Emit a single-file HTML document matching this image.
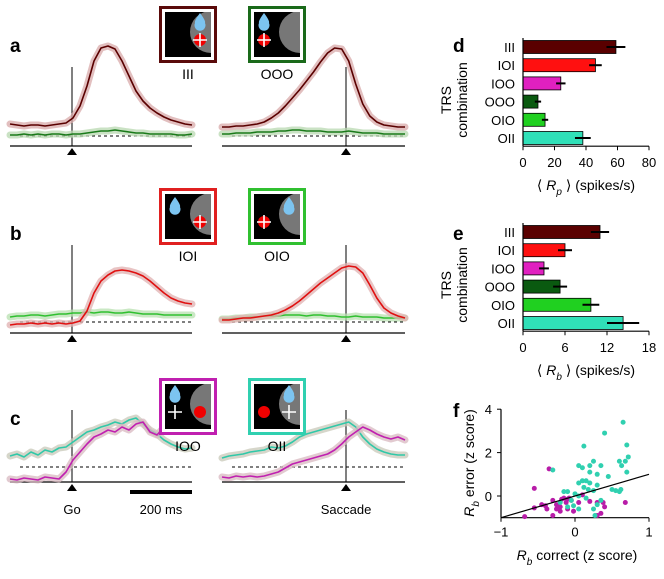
<!DOCTYPE html>
<html><head><meta charset="utf-8"><style>
body{margin:0;background:#fff}
svg{display:block;font-family:"Liberation Sans",sans-serif}
</style></head><body>
<svg id="fig" width="664" height="579" viewBox="0 0 664 579"></svg>
<script>
// ---- data ----
const aLeftRed=[22,21,20,21,21,20,21,22,23,28,40,60,85,98,100,97,85,70,55,45,38,33,29,26,24,22,21];
const aLeftGreen=[11,11,12,11,12,11,12,12,11,12,12,13,14,15,15,16,15,14,13,13,12,12,12,12,11,11,12];
const aRightRed=[19,19,20,20,21,22,24,28,33,40,48,56,65,74,84,93,98,97,85,62,42,30,24,21,20,19,19];
const aRightGreen=[12,12,13,13,13,14,14,14,15,15,16,16,15,15,15,14,14,14,15,14,13,13,13,12,12,12,12];
const bLeftRed=[8,9,9,10,9,10,9,10,9,10,12,22,40,52,58,62,63,62,60,57,52,46,40,35,32,30,29];
const bLeftGreen=[16,17,17,18,18,17,18,19,19,20,20,21,20,21,21,20,20,21,20,19,19,19,18,18,18,18,18];
const bRightRed=[13,13,14,15,15,16,17,18,20,23,27,32,38,44,50,55,60,65,67,66,60,48,35,25,20,17,15];
const bRightGreen=[14,14,15,15,16,16,17,17,17,18,18,18,17,18,18,17,17,16,16,17,16,16,16,15,15,15,15];
const cLeftTeal=[26,28,25,30,27,32,30,34,35,40,45,50,52,55,57,60,58,62,64,58,52,48,42,38,35,33,34];
const cLeftMag=[3,2,4,3,2,5,4,3,10,22,30,38,45,48,52,50,55,52,58,60,50,47,55,58,62,60,62];
const cRightTeal=[24,26,27,28,30,31,32,35,34,36,40,45,48,50,52,54,56,58,60,55,45,38,33,30,28,27,27];
const cRightMag=[5,4,6,5,6,5,6,8,10,14,18,20,22,24,26,28,32,38,45,50,55,52,48,45,43,45,42];

const combos=["III","IOI","IOO","OOO","OIO","OII"];
const barColors=["#5a0000","#ff1010","#e020c0","#0a5a10","#20d020","#30e0b8"];
const dVals=[59,46,24,9.5,14,38];
const dErr=[6,4,3,2,2,5];
const dTicks=[0,20,40,60,80];
const eVals=[11,6,3,5.3,9.7,14.3];
const eErr=[1.3,1,0.7,1,1.2,2.3];
const eTicks=[0,6,12,18];

const fTealX=[-0.3,0.12,0.4,0.65,0.7,0.6,0.72,0.68,0.7,0.63,0.05,0.1,0.2,0.25,0.35,0.2,0.3,0.45,0.15,0.1,0.05,0.2,0.3,0.12,0.18,0.25,0.5,0.55,0.6,0.62,-0.15,-0.1,0.0,0.05,-0.05,-0.02,0.05,0.25,0.3,0.27,0.35,-0.1,-0.2,0.15];
const fTealY=[1.2,2.3,2.9,3.4,2.35,1.6,1.8,1.6,1.1,1.4,1.4,1.3,1.4,1.6,1.4,1.1,1.0,0.9,0.7,0.7,0.6,0.6,0.5,0.4,0.3,0.25,0.3,0.25,0.2,0.3,0.2,0.2,0.1,0.0,-0.2,-0.45,-0.6,-0.6,-0.4,-0.9,-0.2,-0.5,-0.3,-0.1];
const fMagX=[-0.35,-0.55,-0.68,-0.55,-0.45,-0.4,-0.38,-0.3,-0.3,-0.25,-0.2,-0.15,-0.1,-0.12,-0.05,-0.18,-0.2,-0.1,-0.02,0.05,0.1,0.2,0.3,0.35,0.38,0.4,0.68,0.3,-0.08,-0.25];
const fMagY=[1.25,0.35,-0.95,-0.55,-0.4,-0.45,-0.6,-0.9,-0.2,-0.4,-0.5,-0.1,-0.15,-0.3,-0.2,-0.15,-0.7,-0.6,-0.7,-0.3,0.05,-0.25,-0.3,-0.8,-0.3,-0.5,-0.3,-0.9,-0.1,-0.6];
const fXTicks=[-1,0,1];
const fYTicks=[0,2,4];

// ---- helpers ----
const svg=document.getElementById('fig');
const NS='http://www.w3.org/2000/svg';
function el(tag,attrs,parent){const e=document.createElementNS(NS,tag);for(const k in attrs)e.setAttribute(k,attrs[k]);(parent||svg).appendChild(e);return e;}
function txt(x,y,s,size,anchor,parent,extra){const t=el('text',Object.assign({x:x,y:y,'font-size':size,'text-anchor':anchor||'start',fill:'#000'},extra||{}),parent);t.textContent=s;return t;}

// panel labels
[["a",10,52],["b",10,240],["c",10,425],["d",453,52],["e",453,240],["f",453,417]].forEach(p=>{
  const t=txt(p[1],p[2],p[0],19,'start',null,{'font-weight':'bold'});
  
  
});

// ---- traces ----
function tracePanel(name,axisY,topY,dashY,scale,series){
  const g=el('g',{});
  
  
  [[10,192,72],[222,405,346]].forEach((side,si)=>{
    el('line',{x1:side[0],x2:side[1],y1:axisY,y2:axisY,stroke:'#000','stroke-width':1.2},g);
    el('line',{x1:side[0]+10,x2:side[1],y1:dashY,y2:dashY,stroke:'#000','stroke-width':1,'stroke-dasharray':'3,3'},g);
    el('line',{x1:side[2],x2:side[2],y1:topY,y2:axisY,stroke:'#000','stroke-width':1},g);
    el('polygon',{points:`${side[2]-5},${axisY+9} ${side[2]+5},${axisY+9} ${side[2]},${axisY+2}`,fill:'#000'},g);
  });
  series.forEach(s=>{
    const x0=s.side===0?10:222, x1=s.side===0?192:405;
    const n=s.vals.length;
    const pts=s.vals.map((v,i)=>[x0+(x1-x0)*i/(n-1),axisY-v*scale]);
    const d='M'+pts.map(p=>p[0].toFixed(1)+','+p[1].toFixed(1)).join('L');
    const band=el('path',{d:d,fill:'none',stroke:s.band,'stroke-width':7,'stroke-linejoin':'round','stroke-linecap':'round',opacity:0.75},g);
    
    
    const ln=el('path',{d:d,fill:'none',stroke:s.color,'stroke-width':1.6,'stroke-linejoin':'round'},g);
    
    
  });
}
tracePanel('panel-a-traces',146,67,136,1.0,[
 {side:0,vals:aLeftGreen,color:'#1a7a1a',band:'#b8d8b0',name:'a-left-ooo'},
 {side:0,vals:aLeftRed,color:'#5a0000',band:'#d8aaaa',name:'a-left-iii'},
 {side:1,vals:aRightGreen,color:'#1a7a1a',band:'#b8d8b0',name:'a-right-ooo'},
 {side:1,vals:aRightRed,color:'#5a0000',band:'#d8aaaa',name:'a-right-iii'}]);
tracePanel('panel-b-traces',333,245,322,1.0,[
 {side:0,vals:bLeftGreen,color:'#30c030',band:'#b8e0b0',name:'b-left-oio'},
 {side:0,vals:bLeftRed,color:'#e01010',band:'#e0b0b0',name:'b-left-ioi'},
 {side:1,vals:bRightGreen,color:'#30c030',band:'#b8e0b0',name:'b-right-oio'},
 {side:1,vals:bRightRed,color:'#e01010',band:'#e0b0b0',name:'b-right-ioi'}]);
tracePanel('panel-c-traces',482,410,467,1.0,[
 {side:0,vals:cLeftTeal,color:'#30c8a8',band:'#c8c8b8',name:'c-left-oii'},
 {side:0,vals:cLeftMag,color:'#c020b0',band:'#d8b8c0',name:'c-left-ioo'},
 {side:1,vals:cRightTeal,color:'#30c8a8',band:'#c8c8b8',name:'c-right-oii'},
 {side:1,vals:cRightMag,color:'#c020b0',band:'#d8b8c0',name:'c-right-ioo'}]);

// c annotations
let t=txt(72,514,'Go',13,'middle');
t=txt(346,514,'Saccade',13,'middle');
let sb=el('line',{x1:130,x2:192,y1:492,y2:492,stroke:'#000','stroke-width':4});
t=txt(161,514,'200 ms',13,'middle');

// ---- icons ----
let clipId=0;
function icon(x,y,color,label,variant){
  const g=el('g',{});
  
  
  el('rect',{x:x+1.5,y:y+1.5,width:55,height:54,fill:'#fff',stroke:color,'stroke-width':3},g);
  el('rect',{x:x+6,y:y+6,width:46,height:45,fill:'#000'},g);
  const id='clip'+(clipId++);
  const cp=el('clipPath',{id:id},g);el('rect',{x:x+6,y:y+6,width:46,height:45},cp);
  el('circle',{cx:x+52,cy:y+26,r:21,fill:'#777','clip-path':`url(#${id})`},g);
  function drop(cx,cy){el('path',{d:`M${cx},${cy-8} Q${cx+6},${cy} ${cx+5},${cy+2} A5.5,5.5 0 1 1 ${cx-5},${cy+2} Q${cx-6},${cy} ${cx},${cy-8}Z`,fill:'#7cc4f0'},g);}
  function dot(cx,cy){el('circle',{cx:cx,cy:cy,r:6,fill:'#f00000'},g);}
  function cross(cx,cy){el('path',{d:`M${cx-7},${cy}H${cx+7}M${cx},${cy-7}V${cy+7}`,stroke:'#fff','stroke-width':1.6},g);}
  const L=x+16,R=x+41;
  if(variant==='III'){drop(R,y+15);dot(R,y+34);cross(R,y+34);}
  if(variant==='OOO'){drop(L,y+15);dot(L,y+34);cross(L,y+34);}
  if(variant==='IOI'){drop(L,y+17);dot(R,y+34);cross(R,y+34);}
  if(variant==='OIO'){drop(R,y+17);dot(L,y+34);cross(L,y+34);}
  if(variant==='IOO'){drop(L,y+15);cross(L,y+34);dot(R,y+34);}
  if(variant==='OII'){drop(R,y+15);cross(R,y+34);dot(L,y+34);}
  txt(x+29,y+73,label,14,'middle',g);
}
icon(159,6,'#5a0a0a','III','III');
icon(248,6,'#1a6a1a','OOO','OOO');
icon(159,188,'#e02020','IOI','IOI');
icon(248,188,'#30c030','OIO','OIO');
icon(159,378,'#c020b0','IOO','IOO');
icon(248,378,'#30d0b0','OII','OII');

// ---- bar charts ----
function barChart(name,top,vals,errs,ticks,xmax,sub){
  const g=el('g',{});
  
  
  const x0=523,x1=649,step=18.2;
  const xs=v=>x0+(x1-x0)*v/xmax;
  const axisY=top+step*6-1;
  vals.forEach((v,i)=>{
    const cy=top+step*i+9;
    const r=el('rect',{x:x0,y:cy-6.5,width:xs(v)-x0,height:13,fill:barColors[i],stroke:'#000','stroke-width':0.8},g);
    
    
    el('line',{x1:xs(v-errs[i]),x2:xs(v+errs[i]),y1:cy,y2:cy,stroke:'#000','stroke-width':2},g);
    txt(515,cy+5,combos[i],13,'end',g);
  });
  el('line',{x1:x0,x2:x0,y1:top,y2:axisY,stroke:'#000','stroke-width':1.2},g);
  el('line',{x1:x0,x2:x1,y1:axisY,y2:axisY,stroke:'#000','stroke-width':1.2},g);
  ticks.forEach(tk=>{
    el('line',{x1:xs(tk),x2:xs(tk),y1:axisY,y2:axisY+4,stroke:'#000'},g);
    txt(xs(tk),axisY+21,String(tk),13,'middle',g);
  });
  const lab=el('text',{x:586,y:axisY+44,'font-size':14,'text-anchor':'middle'},g);
  lab.innerHTML=`⟨ <tspan font-style="italic">R</tspan><tspan font-size="10" font-style="italic" dy="5">${sub}</tspan><tspan dy="-5"> ⟩  (spikes/s)</tspan>`;
  const yl=el('text',{transform:`translate(451,${top+62}) rotate(-90)`,'font-size':14,'text-anchor':'middle'},g);
  yl.innerHTML=`<tspan x="0" dy="0">TRS</tspan><tspan x="0" dy="16">combination</tspan>`;
}
barChart('chart-d',38,dVals,dErr,dTicks,80,'p');
barChart('chart-e',223,eVals,eErr,eTicks,18,'b');

// ---- scatter f ----
(function(){
  const g=el('g',{});
  
  
  const sx=v=>501+(v+1)*74, sy=v=>496-v*21.7;
  const by=sy(-1);
  el('line',{x1:501,x2:501,y1:sy(4),y2:by,stroke:'#000','stroke-width':1.2},g);
  el('line',{x1:501,x2:649,y1:by,y2:by,stroke:'#000','stroke-width':1.2},g);
  fXTicks.forEach(v=>{el('line',{x1:sx(v),x2:sx(v),y1:by,y2:by+4,stroke:'#000'},g);txt(sx(v),by+19,v<0?'−'+Math.abs(v):String(v),13,'middle',g);});
  fYTicks.forEach(v=>{el('line',{x1:497,x2:501,y1:sy(v),y2:sy(v),stroke:'#000'},g);txt(492,sy(v)+5,String(v),13,'end',g);});
  fMagX.forEach((v,i)=>{const c=el('circle',{cx:sx(v),cy:sy(fMagY[i]),r:2.5,fill:'#b81ca8'},g);});
  fTealX.forEach((v,i)=>{const c=el('circle',{cx:sx(v),cy:sy(fTealY[i]),r:2.5,fill:'#30d0b0'},g);});
  el('line',{x1:sx(-1),y1:sy(-1),x2:sx(1),y2:sy(1),stroke:'#000','stroke-width':1.2},g);
  const xl=el('text',{x:577,y:560,'font-size':14,'text-anchor':'middle'},g);
  xl.innerHTML='<tspan font-style="italic">R</tspan><tspan font-size="10" font-style="italic" dy="5">b</tspan><tspan dy="-5"> correct (z score)</tspan>';
  const yl=el('text',{transform:'translate(474,463) rotate(-90)','font-size':14,'text-anchor':'middle'},g);
  yl.innerHTML='<tspan font-style="italic">R</tspan><tspan font-size="10" font-style="italic" dy="5">b</tspan><tspan dy="-5"> error (z score)</tspan>';
})();
</script>
</body></html>
